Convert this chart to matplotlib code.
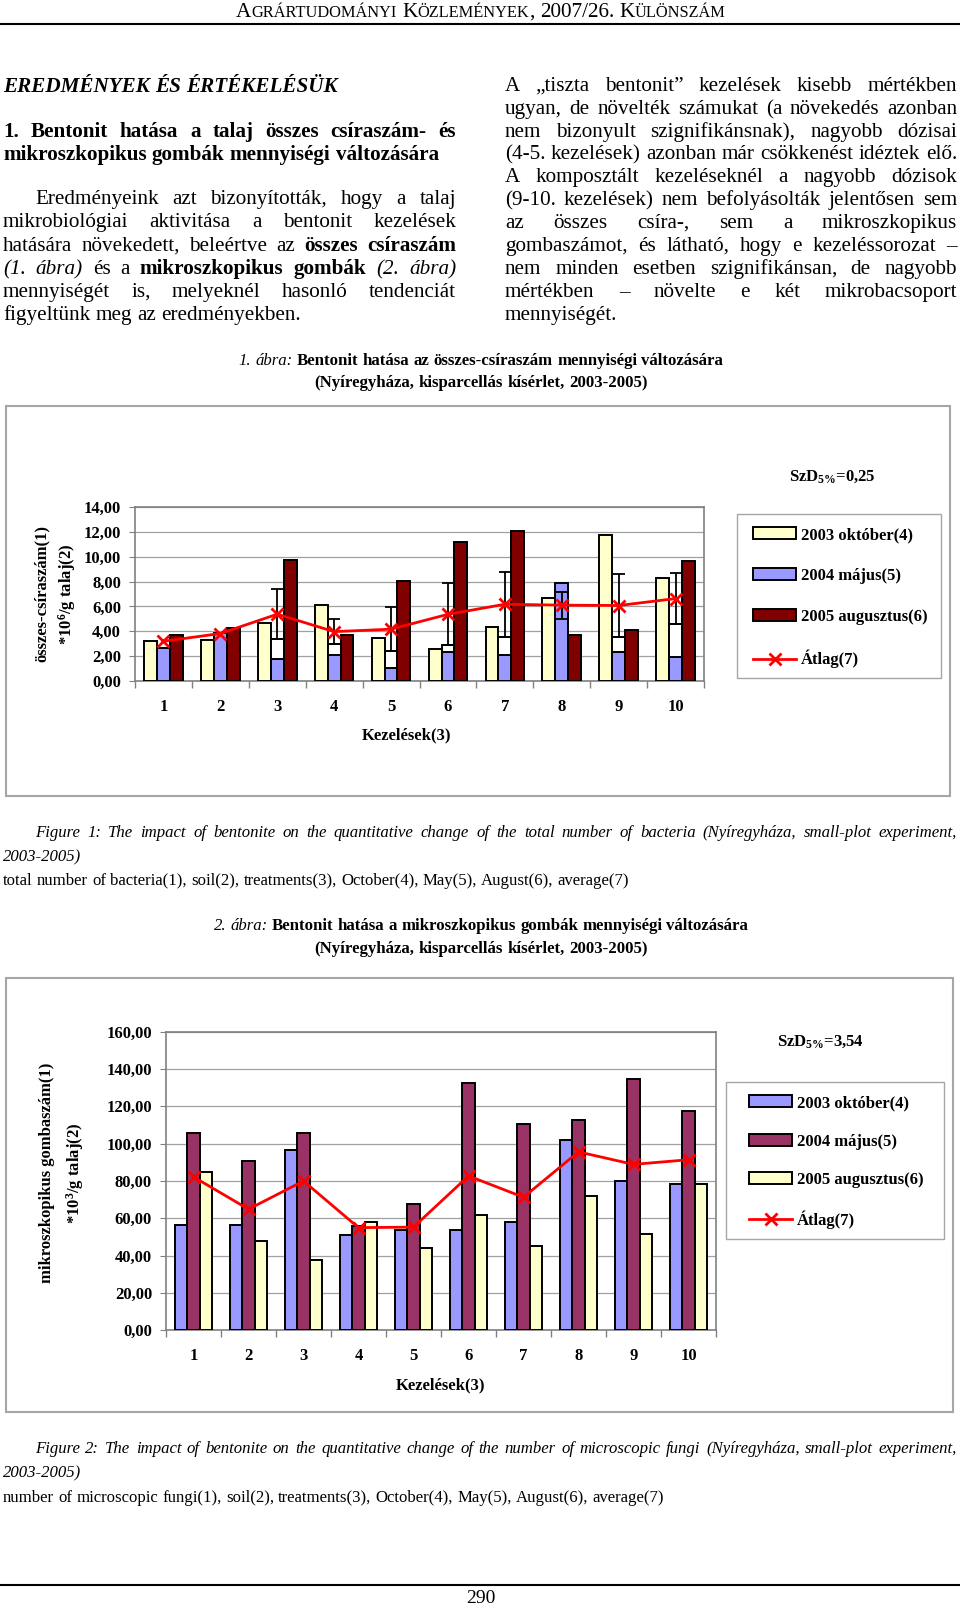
import re
import math
import numpy as np
import matplotlib
matplotlib.use('Agg')
import matplotlib.pyplot as plt
import matplotlib.transforms as mtransforms
from matplotlib.patches import Rectangle, Patch
from matplotlib.lines import Line2D
from matplotlib.font_manager import FontProperties, findfont, get_font
from matplotlib.backends.backend_agg import get_hinting_flag

W, H = 960, 1605
SERIF = 'Liberation Serif'

# chart data
treatments = [1, 2, 3, 4, 5, 6, 7, 8, 9, 10]

bact_oct_2003 = [3.20, 3.26, 4.68, 6.11, 3.42, 2.53, 4.36, 6.70, 11.79, 8.29]
bact_may_2004 = [2.67, 3.88, 1.72, 2.07, 1.02, 2.34, 2.07, 7.92, 2.34, 1.94]
bact_aug_2005 = [3.66, 4.28, 9.72, 3.69, 8.05, 11.20, 12.09, 3.69, 4.09, 9.67]
bact_avg = [3.18, 3.81, 5.37, 3.96, 4.16, 5.36, 6.17, 6.10, 6.07, 6.63]
bact_err = [0, 0, 2.02, 1.02, 1.80, 2.50, 2.63, 1.08, 2.52, 2.06]

fungi_oct_2003 = [56.3, 56.3, 96.6, 51.3, 53.9, 53.9, 58.2, 102.0, 80.2, 78.2]
fungi_may_2004 = [105.5, 90.7, 105.9, 55.7, 67.9, 132.7, 110.5, 112.7, 134.8, 117.5]
fungi_aug_2005 = [84.8, 47.7, 37.5, 58.0, 44.1, 61.6, 45.2, 72.1, 51.6, 78.6]
fungi_avg = [82.2, 64.9, 80.0, 55.0, 55.3, 82.7, 71.3, 95.6, 88.9, 91.4]

legend_oct = '2003 október(4)'
legend_may = '2004 május(5)'
legend_aug = '2005 augusztus(6)'
legend_avg = 'Átlag(7)'

YELLOW = '#ffffcc'
BLUE = '#9999ff'
DARKRED = '#800000'
PURPLE = '#993366'
RED = '#ff0000'

plt.rcParams['mathtext.fontset'] = 'custom'
plt.rcParams['mathtext.rm'] = SERIF
plt.rcParams['mathtext.bf'] = SERIF + ':bold'
plt.rcParams['mathtext.it'] = SERIF + ':italic'

fig = plt.figure(figsize=(W / 100, H / 100), dpi=100)
fig.patch.set_facecolor('white')
# page pixel coordinates, origin top-left
page = mtransforms.Affine2D().scale(1.0 / W, -1.0 / H).translate(0, 1) + fig.transFigure
renderer = fig.canvas.get_renderer()


def font(size, bold=False, italic=False):
    return dict(fontsize=size, family=SERIF, weight='bold' if bold else 'normal',
                style='italic' if italic else 'normal')


def width(s, size, bold=False, italic=False):
    t = fig.text(0, 0, s, **font(size, bold, italic))
    w = t.get_window_extent(renderer).width
    t.remove()
    return w


def snap(s, size, bold, italic, y):
    # Agg places each glyph bitmap by its own descent, rounded to whole pixels;
    # shift the word so that every baseline lands on the same pixel row
    fp = FontProperties(family=SERIF, size=size, weight='bold' if bold else 'normal',
                        style='italic' if italic else 'normal')
    f = get_font(findfont(fp))
    f.clear()
    f.set_size(size, 100)
    f.set_text(s, 0.0, flags=get_hinting_flag())
    h = f.get_width_height()[1] / 64.0
    d = f.get_descent() / 64.0
    a = h - d
    return round(y) + math.floor(a + d) - math.floor(a) - d


def word(x, y, s, size, bold=False, italic=False):
    fig.text(x, snap(s, size, bold, italic, y), s, transform=page, va='baseline', ha='left',
             **font(size, bold, italic))


def parse(line):
    words = []
    bold = italic = False
    for part in re.split(r'(\*\*|//)', line):
        if part == '**':
            bold = not bold
            continue
        if part == '//':
            italic = not italic
            continue
        for w in part.split():
            words.append((w, bold, italic))
    return words


def text_line(line, x0, y, size, x1=None, center=None):
    words = parse(line)
    ws = [width(w, size, b, i) for w, b, i in words]
    gap = width('a a', size) - width('aa', size)
    if x1 is not None and len(words) > 1:
        gap = (x1 - x0 - sum(ws)) / (len(words) - 1)
    elif center is not None:
        x0 = center - (sum(ws) + gap * (len(words) - 1)) / 2
    x = x0
    for (w, b, i), wd in zip(words, ws):
        word(x, y, w, size, b, i)
        x += wd + gap


def paragraph(lines, x0, x1, y0, step, size, indent=0):
    for k, line in enumerate(lines):
        last = k == len(lines) - 1
        xs = x0 + indent if k == 0 else x0
        text_line(line, xs, y0 + k * step, size, x1=None if last else x1)


# ---------------- header / footer ----------------
BIG, SMALL = 15.3, 11.8
header = [[('A', BIG), ('GRÁRTUDOMÁNYI', SMALL)],
          [('K', BIG), ('ÖZLEMÉNYEK', SMALL), (',', BIG)],
          [('2007/26.', BIG)],
          [('K', BIG), ('ÜLÖNSZÁM', SMALL)]]
hgap = width('a a', BIG) - width('aa', BIG)
hw = [[width(s, z) for s, z in wd] for wd in header]
total = sum(sum(w) for w in hw) + hgap * (len(header) - 1)
x = 481 - total / 2
for wd, wl in zip(header, hw):
    for (s, z), ww in zip(wd, wl):
        word(x, 17, s, z)
        x += ww
    x += hgap
fig.add_artist(Line2D([0, W], [24, 24], transform=page, color='black', lw=1.5))
fig.add_artist(Line2D([0, W], [1585, 1585], transform=page, color='black', lw=1.5))
fig.text(481, 1603, '290', transform=page, ha='center', va='baseline', **font(14))

# ---------------- body text ----------------
BODY = 15.2
text_line('**//EREDMÉNYEK ÉS ÉRTÉKELÉSÜK//**', 3, 91.5, BODY)
paragraph(['**1. Bentonit hatása a talaj összes csíraszám- és**',
           '**mikroszkopikus gombák mennyiségi változására**'], 3, 456, 137, 23.3, BODY)
paragraph(['Eredményeink azt bizonyították, hogy a talaj',
           'mikrobiológiai aktivitása a bentonit kezelések',
           'hatására növekedett, beleértve az **összes csíraszám**',
           '//(1. ábra)// és a **mikroszkopikus gombák** //(2. ábra)//',
           'mennyiségét is, melyeknél hasonló tendenciát',
           'figyeltünk meg az eredményekben.'], 3, 456, 204, 23.3, BODY, indent=32)
paragraph(['A „tiszta bentonit” kezelések kisebb mértékben',
           'ugyan, de növelték számukat (a növekedés azonban',
           'nem bizonyult szignifikánsnak), nagyobb dózisai',
           '(4-5. kezelések) azonban már csökkenést idéztek elő.',
           'A komposztált kezeléseknél a nagyobb dózisok',
           '(9-10. kezelések) nem befolyásolták jelentősen sem',
           'az összes csíra-, sem a mikroszkopikus',
           'gombaszámot, és látható, hogy e kezeléssorozat –',
           'nem minden esetben szignifikánsan, de nagyobb',
           'mértékben – növelte e két mikrobacsoport',
           'mennyiségét.'], 505, 957, 90.7, 22.93, BODY)

CAP = 12.1
text_line('//1. ábra:// **Bentonit hatása az összes-csíraszám mennyiségi változására**', 0, 365, CAP, center=481)
text_line('**(Nyíregyháza, kisparcellás kísérlet, 2003-2005)**', 0, 387, CAP, center=481)
text_line('//Figure 1: The impact of bentonite on the quantitative change of the total number of bacteria '
          '(Nyíregyháza, small-plot experiment,//', 35, 837, CAP, x1=957)
text_line('//2003-2005)//', 3, 861, CAP)
text_line('total number of bacteria(1), soil(2), treatments(3), October(4), May(5), August(6), average(7)',
          3, 885, CAP)

text_line('//2. ábra:// **Bentonit hatása a mikroszkopikus gombák mennyiségi változására**', 0, 930, CAP, center=481)
text_line('**(Nyíregyháza, kisparcellás kísérlet, 2003-2005)**', 0, 953, CAP, center=481)
text_line('//Figure 2: The impact of bentonite on the quantitative change of the number of microscopic fungi '
          '(Nyíregyháza, small-plot experiment,//', 35, 1453, CAP, x1=957)
text_line('//2003-2005)//', 3, 1477, CAP)
text_line('number of microscopic fungi(1), soil(2), treatments(3), October(4), May(5), August(6), average(7)',
          3, 1502, CAP)


# ---------------- charts ----------------
def frame(l, t, r, b, color='#a6a6a6', lw=1.5):
    fig.add_artist(Rectangle((l, b), r - l, t - b, transform=page, fill=False,
                             edgecolor=color, lw=lw))


def chart(l, t, r, b, series, colors, avg, ymax, ystep):
    ax = fig.add_axes([l / W, 1 - b / H, (r - l) / W, (b - t) / H])
    x = np.array(treatments, dtype=float)
    bw = 0.226
    for k, (vals, col) in enumerate(zip(series, colors)):
        ax.bar(x + (k - 1) * bw, vals, width=bw, color=col, edgecolor='black', linewidth=1.4, zorder=3)
    ax.plot(x, avg, color=RED, lw=2, marker='x', ms=9, mew=2, zorder=6)
    ax.set_xlim(0.5, 10.5)
    ax.set_ylim(0, ymax)
    yt = np.arange(0, ymax + ystep / 2, ystep)
    ax.set_yticks(yt)
    ax.set_yticklabels(['{:.2f}'.format(v).replace('.', ',') for v in yt])
    ax.set_xticks(x)
    ax.set_xticklabels([str(i) for i in treatments])
    ax.set_xticks(np.arange(0.5, 11), minor=True)
    ax.yaxis.grid(True, color='#a0a0a0', lw=0.9)
    ax.set_axisbelow(True)
    ax.tick_params(axis='x', which='major', length=0, pad=13)
    ax.tick_params(axis='x', which='minor', length=5, color='#808080', width=1)
    ax.tick_params(axis='y', length=4, color='#808080', pad=6)
    for s in ax.spines.values():
        s.set_color('#808080')
        s.set_linewidth(1.2)
    for lab in ax.get_xticklabels() + ax.get_yticklabels():
        lab.set_fontfamily(SERIF)
        lab.set_fontweight('bold')
        lab.set_fontsize(12)
    return ax, x, bw


def legend(x, y, names, colors, spacing=1.5):
    handles = [Patch(facecolor=c, edgecolor='black', lw=1.4) for c in colors]
    handles.append(Line2D([], [], color=RED, lw=2, marker='x', ms=9, mew=2))
    fig.legend(handles, names, loc='upper left', bbox_to_anchor=(x / W, 1 - y / H),
               frameon=False, prop=dict(family=SERIF, weight='bold', size=12),
               handlelength=2.6, handleheight=0.7, handletextpad=0.3, labelspacing=spacing,
               borderpad=0, borderaxespad=0, numpoints=1)


# chart 1: total number of bacteria
frame(6, 405.7, 950, 795.7)
ax1, x1, bw1 = chart(135, 507.3, 704, 680.7, [bact_oct_2003, bact_may_2004, bact_aug_2005],
                     [YELLOW, BLUE, DARKRED], bact_avg, 14, 2)
idx = [k for k, e in enumerate(bact_err) if e > 0]
box = [k for k in idx if bact_avg[k] - bact_err[k] > bact_may_2004[k]]
ax1.bar(x1[box], [bact_avg[k] - bact_err[k] - bact_may_2004[k] for k in box],
        bottom=[bact_may_2004[k] for k in box], width=bw1, color='white',
        edgecolor='black', linewidth=1.4, zorder=4)
ax1.errorbar(x1[idx], [bact_avg[k] for k in idx], yerr=[bact_err[k] for k in idx], fmt='none',
             ecolor='black', elinewidth=1.3, capsize=4.5, capthick=1.3, zorder=5)
fig.text(42, 594, 'összes-csíraszám(1)', transform=page, rotation=90, ha='center', va='center',
         **font(12, True))
fig.text(67, 594, r'*10$^{\mathbf{6}}$/g talaj(2)', transform=page, rotation=90, ha='center',
         va='center', **font(12, True))
fig.text(407, 735, 'Kezelések(3)', transform=page, ha='center', va='center', **font(12, True))
fig.text(832, 477, r'SzD$_{\mathbf{5\%}}$=0,25', transform=page, ha='center', va='center',
         **font(12, True))
frame(737, 514, 941, 678, lw=1)
legend(753, 527, [legend_oct, legend_may, legend_aug, legend_avg], [YELLOW, BLUE, DARKRED])

# chart 2: microscopic fungi
frame(6, 978, 953, 1412)
ax2, x2, bw2 = chart(166, 1031.7, 716, 1330.3, [fungi_oct_2003, fungi_may_2004, fungi_aug_2005],
                     [BLUE, PURPLE, YELLOW], fungi_avg, 160, 20)
fig.text(47, 1173, 'mikroszkopikus gombaszám(1)', transform=page, rotation=90, ha='center',
         va='center', **font(12, True))
fig.text(75, 1173, r'*10$^{\mathbf{3}}$/g talaj(2)', transform=page, rotation=90, ha='center',
         va='center', **font(12, True))
fig.text(441, 1385, 'Kezelések(3)', transform=page, ha='center', va='center', **font(12, True))
fig.text(820, 1042, r'SzD$_{\mathbf{5\%}}$=3,54', transform=page, ha='center', va='center',
         **font(12, True))
frame(726, 1082, 944, 1239, lw=1)
legend(749, 1095, [legend_oct, legend_may, legend_aug, legend_avg], [BLUE, PURPLE, YELLOW],
       spacing=1.35)

fig.savefig('out.png', dpi=100)
